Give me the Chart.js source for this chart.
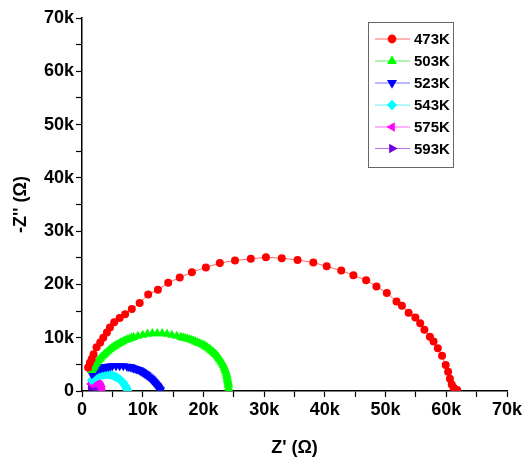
<!DOCTYPE html>
<html>
<head>
<meta charset="utf-8">
<script src="https://cdn.jsdelivr.net/npm/chart.js@4/dist/chart.umd.min.js"></script>
<style>
  html, body { margin: 0; padding: 0; background: #fff; }
  #wrap { width: 526px; height: 462px; }
</style>
</head>
<body>
<div id="wrap"><canvas id="nyquist" width="526" height="462"></canvas></div>
<script>
// impedance data, in kOhm
const temps = ['473K', '503K', '523K', '543K', '575K', '593K']

const zre473 = [1.0,1.3,1.6,1.9,2.4,3.0,3.5,4.1,4.6,5.3,6.2,7.1,8.2,9.5,10.9,12.5,14.2,16.1,18.1,20.4,22.7,25.2,27.8,30.3,32.9,35.5,38.1,40.3,42.7,44.7,46.8,48.5,50.2,51.8,52.7,53.8,54.9,55.7,56.4,57.3,57.9,58.6,59.3,59.9,60.3,60.6,60.9,61.2,61.5,61.8]
const zim473 = [4.4,5.3,6.0,6.9,8.2,9.1,10.0,11.0,11.9,12.9,13.7,14.4,15.4,16.5,18.1,19.0,20.3,21.3,22.3,23.2,24.0,24.5,24.8,25.1,24.9,24.6,24.1,23.4,22.6,21.7,20.8,19.6,18.4,16.8,16.0,14.7,13.8,12.7,11.5,10.2,9.3,8.0,6.6,4.9,3.6,2.3,1.2,0.6,0.3,0.2]

const zre503 = [1.6,1.75,1.9,2.05,2.2,2.4,2.6,2.8,3.0,3.25,3.5,3.75,4.0,4.3,4.6,4.9,5.2,5.5,5.8,6.1,6.4,6.75,7.1,7.45,7.8,8.15,8.5,9.2,10.0,10.8,11.6,12.4,13.2,14.0,14.8,15.6,16.3,16.65,17.0,17.35,17.7,18.05,18.4,18.7,19.0,19.3,19.6,19.9,20.2,20.45,20.7,20.95,21.2,21.4,21.6,21.8,22.0,22.2,22.4,22.55,22.7,22.85,23.0,23.15,23.3,23.4,23.5,23.6,23.7,23.8,23.85,23.9,23.95,24.0,24.05,24.1,24.1,24.15,24.2]
const zim503 = [3.9,4.15,4.4,4.7,5.0,5.3,5.6,5.85,6.1,6.4,6.7,6.95,7.2,7.5,7.8,8.05,8.3,8.5,8.7,8.9,9.1,9.3,9.5,9.65,9.8,9.95,10.1,10.3,10.5,10.7,10.8,10.8,10.8,10.7,10.5,10.3,10.1,10.0,9.9,9.8,9.7,9.55,9.4,9.25,9.1,8.95,8.8,8.65,8.5,8.3,8.1,7.9,7.7,7.5,7.3,7.1,6.9,6.65,6.4,6.15,5.9,5.65,5.4,5.1,4.8,4.5,4.2,3.9,3.6,3.25,2.9,2.6,2.3,2.0,1.7,1.4,1.1,0.6,0.2]

const zre523 = [1.6,1.75,1.9,2.1,2.3,2.55,2.8,3.05,3.3,3.55,3.8,4.1,4.4,4.7,5.0,5.6,6.2,6.8,7.4,7.7,8.0,8.25,8.5,8.75,9.0,9.25,9.5,9.7,9.9,10.1,10.3,10.5,10.7,10.9,11.1,11.3,11.5,11.65,11.8,11.95,12.1,12.25,12.4,12.5,12.6,12.7,12.8,12.85,12.9]
const zim523 = [3.2,3.35,3.5,3.7,3.9,4.05,4.2,4.3,4.4,4.45,4.5,4.55,4.6,4.65,4.7,4.7,4.7,4.7,4.6,4.55,4.5,4.4,4.3,4.2,4.1,4.0,3.9,3.75,3.6,3.45,3.3,3.15,3.0,2.8,2.6,2.4,2.2,2.0,1.8,1.6,1.4,1.2,1.0,0.8,0.6,0.45,0.3,0.2,0.1]

const zre543 = [1.6,1.75,1.9,2.1,2.3,2.55,2.8,3.05,3.3,3.55,3.8,4.05,4.3,4.55,4.8,5.05,5.3,5.5,5.7,5.9,6.1,6.3,6.5,6.65,6.8,6.95,7.1,7.2,7.3,7.4,7.5]
const zim543 = [2.0,2.2,2.4,2.55,2.7,2.8,2.9,2.95,3.0,3.05,3.1,3.1,3.1,3.05,3.0,2.9,2.8,2.7,2.6,2.45,2.3,2.1,1.9,1.7,1.5,1.25,1.0,0.8,0.6,0.35,0.1]

const zre575 = [1.5,1.7,1.9,2.1,2.3,2.5,2.7,2.85,3.0,3.1,3.2,3.3,3.4]
const zim575 = [1.3,1.4,1.5,1.5,1.5,1.45,1.4,1.25,1.1,0.9,0.7,0.45,0.2]

const zre593 = [1.4,1.55,1.7,1.85,2.0,2.1,2.2,2.3,2.4]
const zim593 = [0.9,0.95,1.0,0.95,0.9,0.8,0.7,0.45,0.2]

const xTicks = [0, 10, 20, 30, 40, 50, 60, 70]
const yTicks = [0, 10, 20, 30, 40, 50, 60, 70]

const colors = ['#ff0000', '#00ff00', '#0000ff', '#00ffff', '#ff00ff', '#7000e0']
const lineColors = ['rgba(255,0,0,0.6)', 'rgba(0,220,0,0.6)', 'rgba(0,0,255,0.55)', 'rgba(0,230,230,0.6)', 'rgba(255,0,255,0.6)', 'rgba(112,0,224,0.55)']
const styles = ['circle', 'triangle', 'triangle', 'rectRot', 'triangle', 'triangle']
const rotations = [0, 0, 180, 0, 270, 90]
const radii = [4, 5.4, 5.4, 4.8, 5.2, 5.2]

const xs = [zre473, zre503, zre523, zre543, zre575, zre593]
const ys = [zim473, zim503, zim523, zim543, zim575, zim593]

const datasets = temps.map((t, i) => ({
    label: t,
    data: xs[i].map((x, j) => ({x: x, y: ys[i][j]})),
    showLine: true,
    borderColor: lineColors[i],
    borderWidth: 1,
    backgroundColor: colors[i],
    pointBackgroundColor: colors[i],
    pointBorderColor: colors[i],
    pointBorderWidth: 0,
    pointStyle: styles[i],
    rotation: rotations[i],
    pointRadius: radii[i],
    order: i
}))

const fmt = v => {
    if (!xTicks.includes(v)) return ''
    return v === 0 ? '0' : v + 'k'
}

// legend box drawn in the upper right corner of the plot
const boxLegend = {
    id: 'boxLegend',
    afterDraw(chart) {
        const ctx = chart.ctx
        ctx.save()
        ctx.strokeStyle = '#666'
        ctx.lineWidth = 1
        ctx.strokeRect(368.5, 22.5, 85, 145)
        const rowY = [39, 61, 83, 105, 127, 148.5]
        temps.forEach((t, i) => {
            const y = rowY[i]
            ctx.strokeStyle = lineColors[i]
            ctx.lineWidth = 1
            ctx.beginPath()
            ctx.moveTo(375, y)
            ctx.lineTo(410, y)
            ctx.stroke()
            ctx.fillStyle = colors[i]
            ctx.strokeStyle = colors[i]
            Chart.helpers.drawPoint(ctx, {
                pointStyle: styles[i], rotation: rotations[i],
                radius: radii[i] + 0.4, borderWidth: 0
            }, 392, y)
            ctx.fillStyle = '#000'
            ctx.font = 'bold 15px "Liberation Sans", Arial, sans-serif'
            ctx.textBaseline = 'middle'
            ctx.textAlign = 'left'
            ctx.fillText(t, 414, y + 1)
        })
        ctx.restore()
    }
}

const tickFont = {family: '"Liberation Sans", Arial, sans-serif', size: 18, weight: 'bold'}

const ctx = document.getElementById('nyquist').getContext('2d')
new Chart(ctx, {
    type: 'scatter',
    data: {datasets: datasets},
    options: {
        responsive: false,
        animation: false,
        layout: {padding: {top: 18, right: 19, bottom: 3, left: 0}},
        plugins: {legend: {display: false}, tooltip: {enabled: false}},
        scales: {
            x: {
                type: 'linear',
                min: 0, max: 70,
                afterFit: s => { s.height = 68 },
                border: {display: true, color: '#000', width: 1.5},
                grid: {drawOnChartArea: false, drawTicks: true, tickLength: 6, tickColor: '#000', tickWidth: 1.2},
                ticks: {stepSize: 5, autoSkip: false, maxRotation: 0, color: '#000', font: tickFont, padding: 2, callback: fmt},
                title: {display: true, text: "Z' (Ω)", color: '#000', font: {family: '"Liberation Sans", Arial, sans-serif', size: 18, weight: 'bold'}, padding: {top: 0, bottom: 0}}
            },
            y: {
                type: 'linear',
                min: 0, max: 70,
                afterFit: s => { s.width = 82 },
                border: {display: true, color: '#000', width: 1.5},
                grid: {drawOnChartArea: false, drawTicks: true, tickLength: 6, tickColor: '#000', tickWidth: 1.2},
                ticks: {stepSize: 5, autoSkip: false, color: '#000', font: tickFont, padding: 2, callback: v => yTicks.includes(v) ? (v === 0 ? '0' : v + 'k') : ''},
                title: {display: true, text: "-Z'' (Ω)", color: '#000', font: {family: '"Liberation Sans", Arial, sans-serif', size: 18, weight: 'bold'}, padding: {top: 10, bottom: 0}}
            }
        }
    },
    plugins: [boxLegend]
})
</script>
</body>
</html>
